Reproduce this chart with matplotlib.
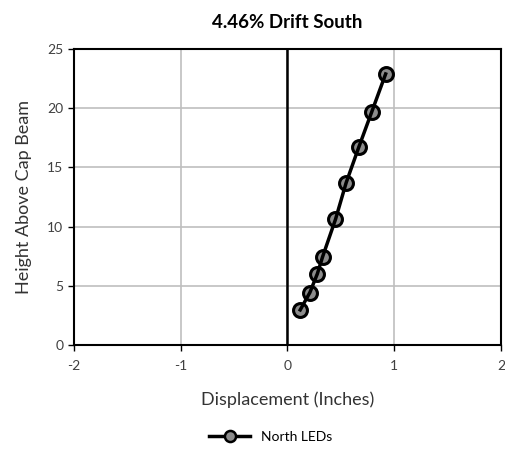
import numpy as np
import matplotlib.pyplot as plt
plt.rcParams['font.family'] = ['Lato', 'DejaVu Sans']
plt.rcParams['axes.unicode_minus'] = False

# North LEDs
disp = [0.12, 0.21, 0.28, 0.33, 0.45, 0.55, 0.67, 0.79, 0.92]
height = [2.96, 4.42, 6.0, 7.46, 10.6, 13.7, 16.75, 19.7, 22.9]
xticks = [-2, -1, 0, 1, 2]
yticks = [0, 5, 10, 15, 20, 25]

fig = plt.figure(figsize=(5.06, 4.55), dpi=100)
ax = fig.add_axes([0.146, 0.242, 0.844, 0.650])

ax.grid(True, color='#bfbfbf', linewidth=1.2)
ax.set_axisbelow(True)
ax.axvline(0, color='black', linewidth=1.8, zorder=1.5)
# markers first, line drawn through them (Excel style)
ax.plot(disp, height, linestyle='none', marker='o', markersize=10,
        markerfacecolor='#8c8c8c', markeredgecolor='black', markeredgewidth=2.2,
        zorder=3)
ax.plot(disp, height, color='black', linewidth=2.5, zorder=4)
# legend proxy
ax.plot([], [], color='black', linewidth=2.5, marker='o', markersize=8,
        markerfacecolor='#8c8c8c', markeredgecolor='black', markeredgewidth=1.8,
        label='North LEDs')

ax.set_xlim(-2, 2)
ax.set_ylim(0, 25)
ax.set_xticks(xticks)
ax.set_yticks(yticks)
ax.tick_params(labelsize=10, length=4, width=1, colors='black', labelcolor='#404040')
ax.tick_params(axis='x', pad=7)
for s in ax.spines.values():
    s.set_linewidth(1.5)
    s.set_color('black')

ax.set_xlabel('Displacement (Inches)', fontsize=13, color='#333333', labelpad=14)
ax.set_ylabel('Height Above Cap Beam', fontsize=13, color='#333333', labelpad=11)
ax.set_title('4.46% Drift South', fontsize=13.5, fontweight='bold', pad=15)

fig.legend(loc='center', bbox_to_anchor=(0.535, 0.04), frameon=False,
           fontsize=10, handlelength=3)

plt.savefig('out.png', dpi=100)
